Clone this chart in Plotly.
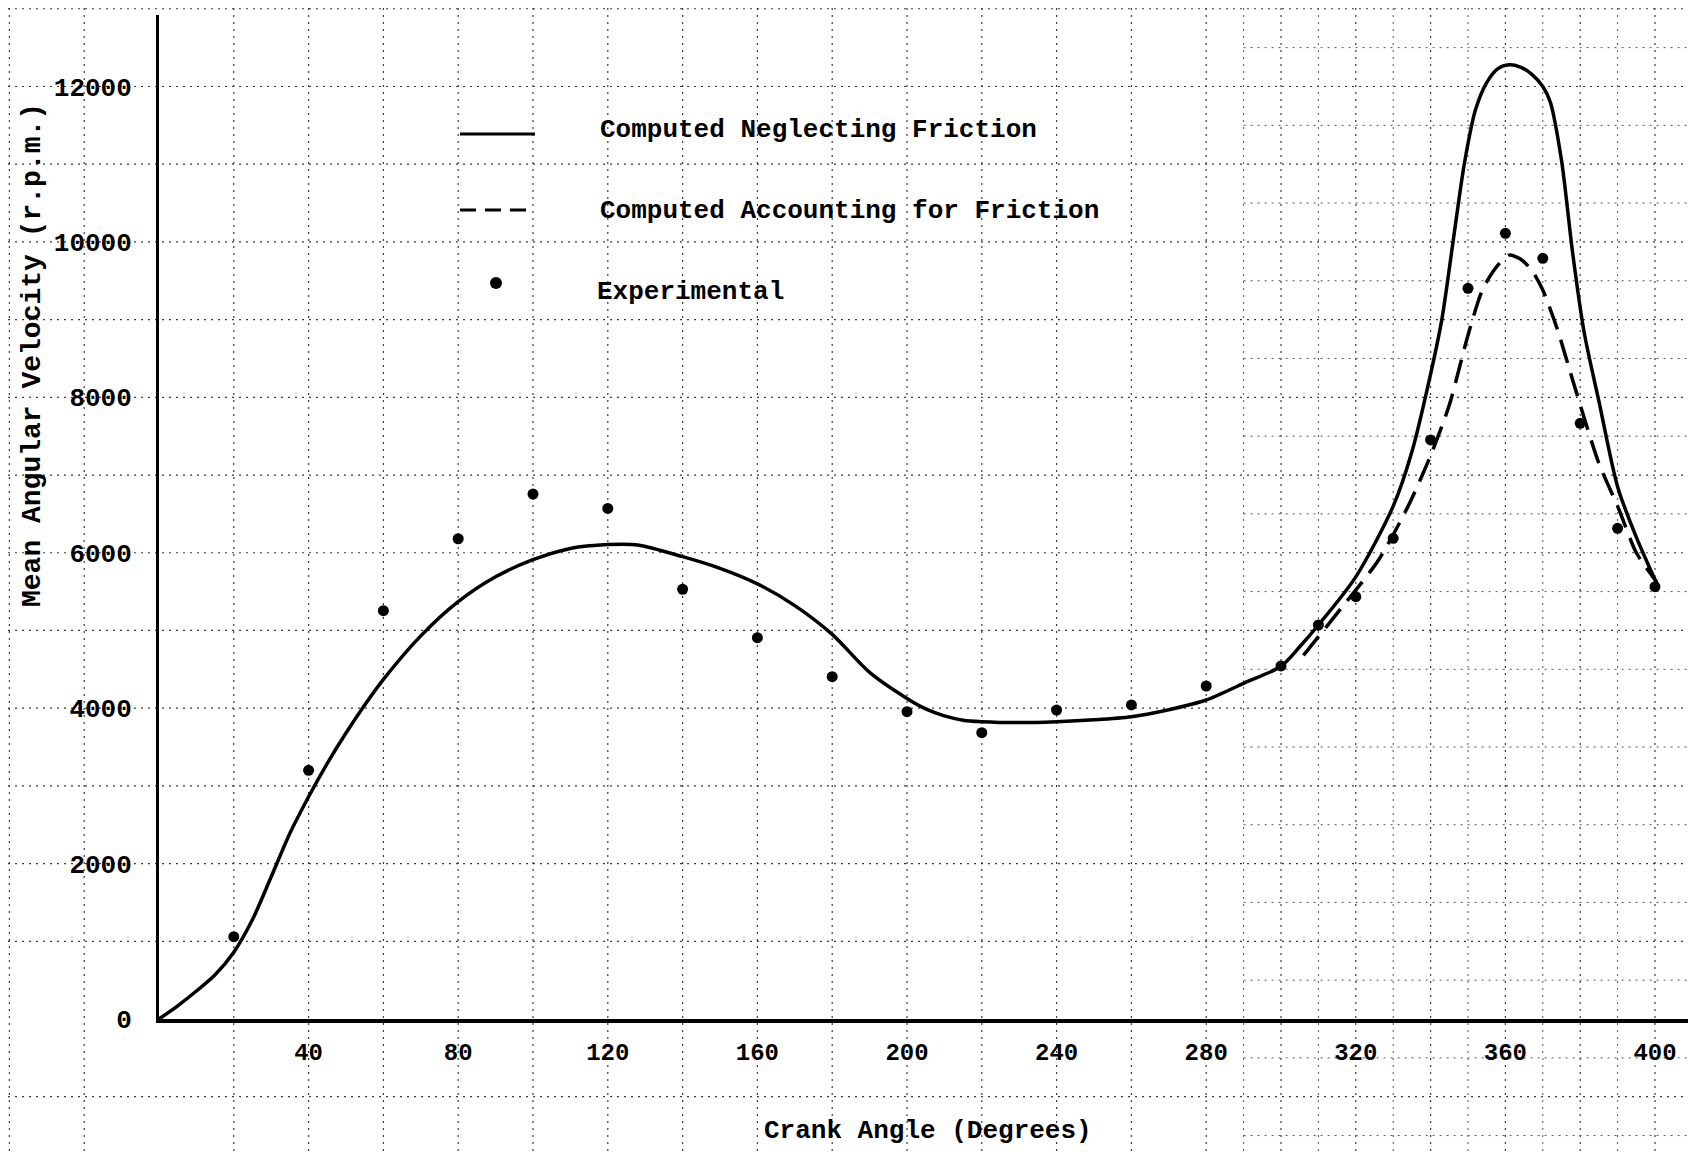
import plotly.graph_objects as go

# ---------------- data ----------------
crank_solid = [0, 5, 10, 15, 20, 25, 30, 35, 40, 45, 50, 55, 60, 70, 80, 90, 100, 110, 120,
               128, 140, 150, 160, 170, 180, 190, 200, 205, 210, 215, 220, 230, 240, 250, 260,
               270, 280, 290, 300, 305, 310, 320, 330, 335, 340, 343, 346, 349, 352, 355,
               358, 361, 364, 367, 370, 372, 375, 378, 381, 385, 390, 395, 400.5]
rpm_solid = [0, 170, 360, 570, 860, 1280, 1830, 2390, 2860, 3290, 3680, 4040, 4370, 4930, 5370,
             5690, 5910, 6055, 6105, 6100, 5950, 5800, 5600, 5320, 4950, 4460, 4125, 3990, 3900,
             3845, 3826, 3815, 3826, 3850, 3890, 3980, 4105, 4320, 4540, 4790, 5070, 5690, 6600,
             7300, 8300, 9000, 10000, 11000, 11700, 12050, 12230, 12280, 12250, 12160, 12000,
             11800, 11050, 9850, 8850, 7950, 6850, 6200, 5600]

crank_friction = [306, 316, 326, 334, 340, 345, 350, 354, 358, 361, 364, 367, 370, 374, 378,
                  385, 390, 395, 400.5]
rpm_friction = [4680, 5280, 5900, 6600, 7250, 7900, 8800, 9400, 9700, 9830, 9780, 9640, 9380,
                8860, 8220, 7150, 6600, 6000, 5620]

crank_exp = [20, 40, 60, 80, 100, 120, 140, 160, 180, 200, 220, 240, 260, 280, 300, 310, 320,
             330, 340, 350, 360, 370, 380, 390, 400]
rpm_exp = [1060, 3200, 5255, 6180, 6755, 6570, 5530, 4907, 4405, 3955, 3685, 3976, 4041, 4285,
           4543, 5070, 5434, 6186, 7451, 9403, 10111, 9788, 7666, 6314, 5563]

x_tick_vals = [40, 80, 120, 160, 200, 240, 280, 320, 360, 400]
y_tick_vals = [0, 2000, 4000, 6000, 8000, 10000, 12000]

legend_labels = ["Computed Neglecting Friction", "Computed Accounting for Friction", "Experimental"]
x_title = "Crank Angle (Degrees)"
y_title = "Mean Angular Velocity (r.p.m.)"

# ---------------- layout geometry ----------------
# the page body adds an 8px margin; positions below are in window pixels
OFF = 8
W, H = 1696 - 2 * OFF, 1159 - 2 * OFF
AX_LEFT, AX_BOTTOM, AX_TOP = 159, 1019, 15          # window px
ML = AX_LEFT - OFF
MT = AX_TOP - OFF
MB = (OFF + H) - AX_BOTTOM
MR = 0
PW, PH = W - ML - MR, H - MT - MB
X_MAX = PW / 3.74
Y_MAX = PH / 0.07771

FONT = "Liberation Mono"
INK = "black"


def paper_x(px):
    return (px - AX_LEFT) / PW


def paper_y(py):
    return (AX_BOTTOM - py) / PH


shapes = []
bottom_p = -MB / PH
top_p = 1 + MT / PH
left_p = -ML / PW

# graph-paper grid (decorative), major lines every 20 deg / 1000 rpm
for d in range(-40, 411, 20):
    if d == 0 or d > X_MAX:
        continue
    shapes.append(dict(type="line", xref="paper", yref="paper", layer="below",
                       x0=d / X_MAX, x1=d / X_MAX, y0=bottom_p, y1=top_p,
                       line=dict(color="#3a3a3a", width=1.2, dash="2px,5px")))
for r in range(-2000, 13001, 1000):
    if r == 0:
        continue
    shapes.append(dict(type="line", xref="paper", yref="paper", layer="below",
                       x0=left_p, x1=1, y0=r / Y_MAX, y1=r / Y_MAX,
                       line=dict(color="#3a3a3a", width=1.2, dash="2px,5px")))
# finer paper on the right-hand side
for d in range(290, 411, 20):
    if d > X_MAX:
        continue
    shapes.append(dict(type="line", xref="paper", yref="paper", layer="below",
                       x0=d / X_MAX, x1=d / X_MAX, y0=bottom_p, y1=top_p,
                       line=dict(color="#555555", width=1, dash="2px,5px")))
for r in range(-1500, 13000, 1000):
    shapes.append(dict(type="line", xref="paper", yref="paper", layer="below",
                       x0=290 / X_MAX, x1=1, y0=r / Y_MAX, y1=r / Y_MAX,
                       line=dict(color="#555555", width=1, dash="2px,5px")))

# legend samples
shapes.append(dict(type="line", xref="paper", yref="paper",
                   x0=paper_x(460), x1=paper_x(535), y0=paper_y(134), y1=paper_y(134),
                   line=dict(color=INK, width=3)))
shapes.append(dict(type="line", xref="paper", yref="paper",
                   x0=paper_x(460), x1=paper_x(535), y0=paper_y(210), y1=paper_y(210),
                   line=dict(color=INK, width=3, dash="16px,9px")))
shapes.append(dict(type="circle", xref="paper", yref="paper",
                   x0=paper_x(490), x1=paper_x(502), y0=paper_y(289), y1=paper_y(277),
                   fillcolor=INK, line=dict(color=INK, width=0)))

annotations = [
    dict(text=legend_labels[0], xref="paper", yref="paper", x=paper_x(598), y=paper_y(130),
         xanchor="left", yanchor="middle", showarrow=False,
         font=dict(family=FONT, size=26, color=INK, weight="bold")),
    dict(text=legend_labels[1], xref="paper", yref="paper", x=paper_x(598), y=paper_y(211),
         xanchor="left", yanchor="middle", showarrow=False,
         font=dict(family=FONT, size=26, color=INK, weight="bold")),
    dict(text=legend_labels[2], xref="paper", yref="paper", x=paper_x(595), y=paper_y(292),
         xanchor="left", yanchor="middle", showarrow=False,
         font=dict(family=FONT, size=26, color=INK, weight="bold")),
    dict(text=x_title, xref="paper", yref="paper", x=paper_x(928), y=paper_y(1131),
         xanchor="center", yanchor="middle", showarrow=False,
         font=dict(family=FONT, size=26, color=INK, weight="bold")),
    dict(text=y_title, xref="paper", yref="paper", x=paper_x(32), y=paper_y(355),
         xanchor="center", yanchor="middle", showarrow=False, textangle=-90,
         font=dict(family=FONT, size=28, color=INK, weight="bold")),
]

fig = go.Figure()
fig.add_trace(go.Scatter(x=crank_solid, y=rpm_solid, mode="lines", name=legend_labels[0],
                         line=dict(color=INK, width=3.5, shape="spline", smoothing=0.8)))
fig.add_trace(go.Scatter(x=crank_friction, y=rpm_friction, mode="lines", name=legend_labels[1],
                         line=dict(color=INK, width=3.5, shape="spline", smoothing=0.7,
                                   dash="24px,11px")))
fig.add_trace(go.Scatter(x=crank_exp, y=rpm_exp, mode="markers", name=legend_labels[2],
                         marker=dict(color=INK, size=11, symbol="circle")))

fig.update_layout(
    width=W, height=H,
    margin=dict(l=ML, r=MR, t=MT, b=MB, pad=0, autoexpand=False),
    paper_bgcolor="white", plot_bgcolor="white",
    showlegend=False,
    shapes=shapes,
    annotations=annotations,
    font=dict(family=FONT, color=INK),
)
fig.update_xaxes(range=[0, X_MAX], tickvals=x_tick_vals, ticktext=[str(v) for v in x_tick_vals],
                 showline=True, linewidth=4, linecolor=INK, mirror=False,
                 ticks="outside", ticklen=8, tickcolor="rgba(0,0,0,0)",
                 tickfont=dict(family=FONT, size=24, color=INK, weight="bold"),
                 showgrid=False, zeroline=False)
fig.update_yaxes(range=[0, Y_MAX], tickvals=y_tick_vals, ticktext=[str(v) for v in y_tick_vals],
                 showline=True, linewidth=3, linecolor=INK, mirror=False,
                 ticks="outside", ticklen=19, tickcolor="rgba(0,0,0,0)",
                 tickfont=dict(family=FONT, size=26, color=INK, weight="bold"),
                 showgrid=False, zeroline=False)

fig.write_html("out.html")
